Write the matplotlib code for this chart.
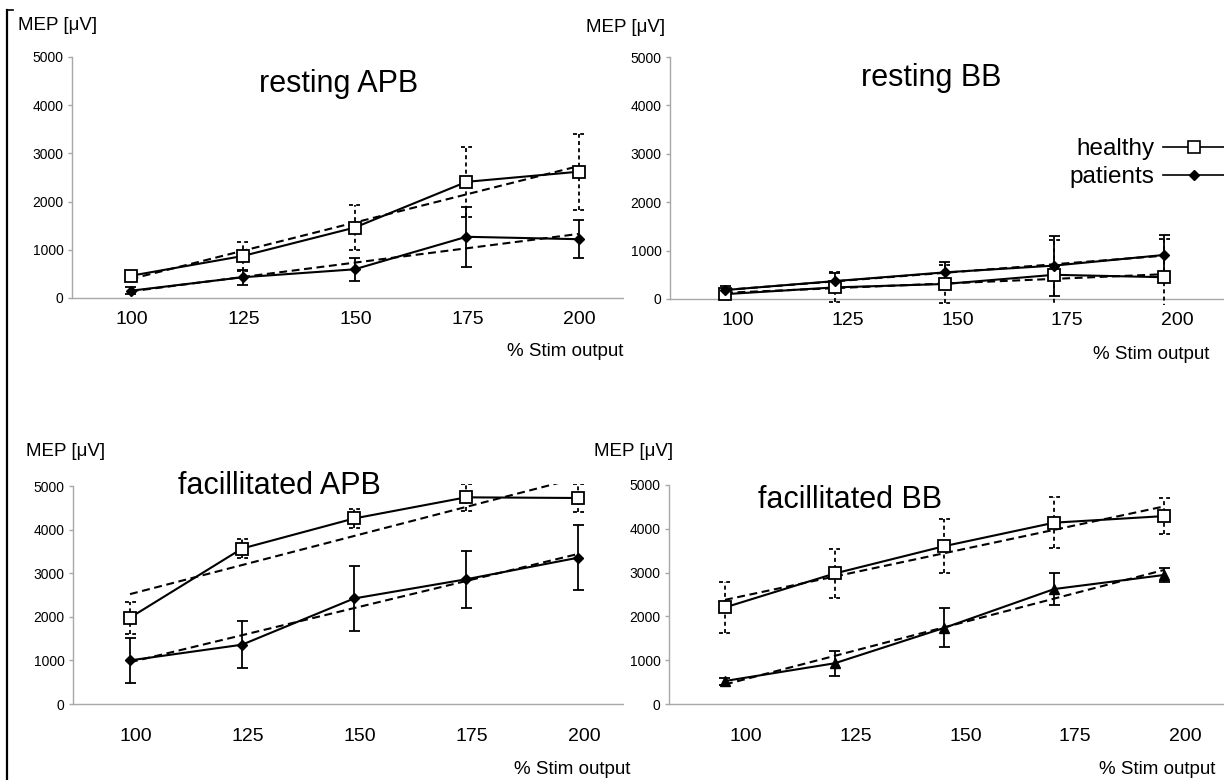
import matplotlib
matplotlib.use('Agg')
import matplotlib.pyplot as plt
import numpy as np
from matplotlib.transforms import ScaledTranslation
from matplotlib.lines import Line2D

plt.rcParams['font.family'] = ['Liberation Sans', 'DejaVu Sans']

# ---------------- data ----------------
stim_labels = ['100', '125', '150', '175', '200']
y_ticks = [0, 1000, 2000, 3000, 4000, 5000]
panel_titles = ['resting APB', 'resting BB', 'facillitated APB', 'facillitated BB']
series_names = ['healthy', 'patients']

rest_apb_healthy = [460, 870, 1460, 2410, 2620]
rest_apb_healthy_sd = [80, 300, 460, 730, 790]
rest_apb_patients = [150, 430, 595, 1270, 1220]
rest_apb_patients_sd = [70, 150, 235, 620, 400]

rest_bb_healthy = [100, 240, 310, 500, 450]
rest_bb_healthy_sd = [60, 310, 400, 720, 780]
rest_bb_patients = [185, 370, 550, 690, 910]
rest_bb_patients_sd = [80, 175, 220, 620, 410]

fac_apb_healthy = [1980, 3565, 4255, 4740, 4725]
fac_apb_healthy_sd = [370, 220, 220, 310, 330]
fac_apb_patients = [1000, 1360, 2420, 2860, 3355]
fac_apb_patients_sd = [510, 540, 740, 650, 740]

fac_bb_healthy = [2205, 2980, 3605, 4140, 4290]
fac_bb_healthy_sd = [590, 570, 620, 580, 410]
fac_bb_patients = [525, 930, 1740, 2625, 2945]
fac_bb_patients_sd = [80, 290, 450, 370, 150]

panels_data = [
    (rest_apb_healthy, rest_apb_healthy_sd, rest_apb_patients, rest_apb_patients_sd, 'D'),
    (rest_bb_healthy, rest_bb_healthy_sd, rest_bb_patients, rest_bb_patients_sd, 'D'),
    (fac_apb_healthy, fac_apb_healthy_sd, fac_apb_patients, fac_apb_patients_sd, 'D'),
    (fac_bb_healthy, fac_bb_healthy_sd, fac_bb_patients, fac_bb_patients_sd, '^'),
]

# ---------------- layout (pixels) ----------------
W, H = 1224, 780
YMIN, YMAX = -130, 5050
# axis_x, right_x, first data px, step px, y(0) px, y(5000) px, label dx px, label pad pt
layout = [
    (72, 624, 130.5, 112.0, 298, 57, 1, 4.5),
    (670, 1224, 725, 109.75, 299, 57, 13, 4.5),
    (73, 624, 130, 112.0, 704, 486, 6, 13),
    (669, 1224, 725, 109.75, 704, 485, 21, 13),
]
title_pos = [(339, 92), (931, 86), (279, 494), (850, 508)]
mep_pos = [(58, 25), (626, 27), (66, 451), (634, 451)]
stim_pos = [(507, 352), (1093, 355), (514, 770), (1099, 769)]

AX_GRAY = '#a8a8a8'

fig = plt.figure(figsize=(W / 100, H / 100), dpi=100)


def draw_err(ax, x, m, sd, dashed, cw):
    x = np.asarray(x, float)
    m = np.asarray(m, float)
    sd = np.asarray(sd, float)
    ls = (0, (2.2, 1.8)) if dashed else '-'
    ax.vlines(x, m - sd, m + sd, colors='k', linestyles=ls, lw=1.3, zorder=3)
    for yy in (m + sd, m - sd):
        ax.hlines(yy, x - cw, x + cw, colors='k', linestyles=ls, lw=1.3, zorder=3)


axes = []
for k, (ax_x, right_x, x0, step, y0, y5, ldx, lpad) in enumerate(layout):
    s = (y0 - y5) / 5000.0
    top_px = y0 - YMAX * s
    bot_px = y0 - YMIN * s
    ax = fig.add_axes([ax_x / W, 1 - bot_px / H, (right_x - ax_x) / W, (bot_px - top_px) / H])
    ax.set_xlim((ax_x - x0) / step, (right_x - x0) / step)
    ax.set_ylim(YMIN, YMAX)
    ax.patch.set_alpha(0)
    for sp in ['top', 'right', 'bottom']:
        ax.spines[sp].set_visible(False)
    ax.spines['left'].set_color(AX_GRAY)
    ax.spines['left'].set_linewidth(1.0)
    ax.spines['left'].set_bounds(0, 5000)
    ax.axhline(0, color=AX_GRAY, lw=1.0, zorder=1)

    ax.set_yticks(y_ticks)
    ax.set_yticklabels([str(v) for v in y_ticks])
    ax.tick_params(axis='y', direction='out', length=3, width=1, color=AX_GRAY,
                   labelsize=10, pad=3)
    xs = np.arange(len(stim_labels))
    ax.set_xticks(xs)
    ax.set_xticklabels(stim_labels)
    ax.tick_params(axis='x', length=0, labelsize=14, pad=lpad)
    for lab in ax.get_xticklabels():
        lab.set_transform(lab.get_transform() + ScaledTranslation(ldx / 100, 0, fig.dpi_scale_trans))

    h, hsd, p, psd, pmark = panels_data[k]
    cw = 5.5 / step
    # trend lines (linear fit)
    for series in (h, p):
        coef = np.polyfit(xs, series, 1)
        ax.plot(xs, np.polyval(coef, xs), color='k', lw=1.5, ls=(0, (3.8, 2.2)), zorder=2)
    draw_err(ax, xs, h, hsd, True, cw)
    draw_err(ax, xs, p, psd, False, cw)
    ax.plot(xs, h, color='k', lw=1.5, marker='s', ms=8, mfc='white', mec='k', mew=1.3,
            zorder=5, label=series_names[0])
    pms = 7 if pmark == '^' else 5
    ax.plot(xs, p, color='k', lw=1.5, marker=pmark, ms=pms, mfc='k', mec='k',
            zorder=5, label=series_names[1])
    axes.append(ax)

    fig.text(title_pos[k][0] / W, 1 - title_pos[k][1] / H, panel_titles[k],
             ha='center', va='baseline', fontsize=22)
    fig.text(mep_pos[k][0] / W, 1 - mep_pos[k][1] / H, 'MEP [\u03bcV]',
             ha='center', va='center', fontsize=13.5)
    fig.text(stim_pos[k][0] / W, 1 - stim_pos[k][1] / H, '% Stim output',
             ha='left', va='center', fontsize=13.5)

# legend (text left of the line sample)
leg_handles = [
    Line2D([], [], color='k', lw=1.2, marker='s', ms=8, mfc='white', mec='k', mew=1.2),
    Line2D([], [], color='k', lw=1.2, marker='D', ms=5, mfc='k', mec='k'),
]
fig.legend(leg_handles, series_names, loc='upper right', bbox_to_anchor=(1.0, 1 - 138 / H),
           markerfirst=False, frameon=False, fontsize=17.5, handlelength=2.5,
           handletextpad=0.35, labelspacing=0.25, borderpad=0, borderaxespad=0, numpoints=1)

# left frame bracket
fig.add_artist(Line2D([7 / W, 7 / W], [1 - 10 / H, 0], color='k', lw=1.6))
fig.add_artist(Line2D([7 / W, 13 / W], [1 - 10 / H, 1 - 10 / H], color='k', lw=1.2))

fig.savefig('out.png', dpi=100)
